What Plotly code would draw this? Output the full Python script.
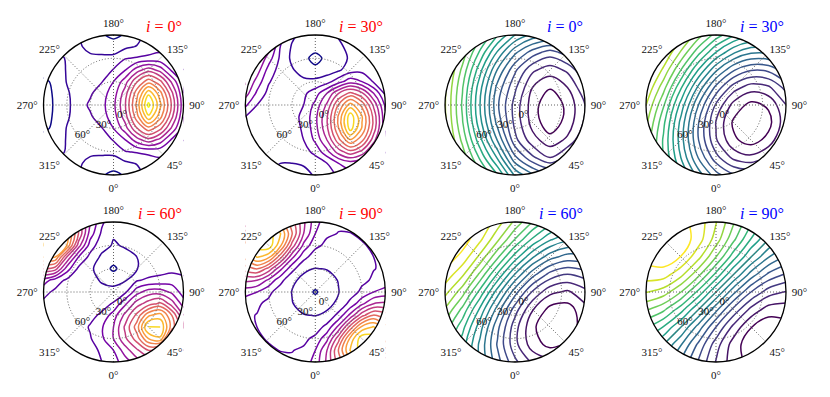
import numpy as np
import plotly.graph_objects as go

# projected zenith coordinates (deg) of the sample grids: x to the right (azimuth 90), y up (azimuth 180)
grid_fine = [-90, -75, -60, -45, -30, -15, 0, 15, 30, 45, 60, 75, 90]
grid_coarse = [-90, -67.5, -45, -22.5, 0, 22.5, 45, 67.5, 90]

azimuth_ticks = [0, 45, 90, 135, 180, 225, 270, 315]
azimuth_labels = ['0°', '45°', '90°', '135°', '180°', '225°', '270°', '315°']
zenith_ticks = [0, 30, 60]
zenith_labels = ['0°', '30°', '60°']

incidence = ['0°', '30°', '60°', '90°']

# left block: contour level, rows from top (y=90) to bottom (y=-90)
left_i0 = [
    [2.0, 2.0, 2.0, 2.0, 1.6, 1.1, 0.7, 1.1, 1.6, 2.3, 2.6, 2.6, 2.6],
    [2.0, 2.0, 2.1, 2.1, 1.8, 1.7, 1.6, 1.8, 2.05, 2.5, 2.7, 2.6, 2.6],
    [1.6, 1.8, 2.05, 2.3, 2.15, 2.15, 2.2, 2.95, 3.1, 3.2, 3.3, 3.0, 2.8],
    [1.4, 1.6, 2.05, 2.4, 2.5, 2.7, 3.05, 3.95, 5.53, 6.6, 5.6, 3.8, 3.0],
    [0.8, 1.2, 2.05, 2.45, 2.6, 2.95, 4.0, 5.54, 7.93, 9.6, 8.32, 5.8, 3.5],
    [0.6, 1.15, 1.85, 2.5, 2.85, 3.6, 4.46, 6.53, 9.6, 12.8, 10.4, 7.23, 4.0],
    [0.5, 1.13, 1.78, 2.5, 3.18, 3.71, 4.73, 6.93, 10.28, 14.3, 11.25, 7.86, 4.3],
    [0.6, 1.15, 1.85, 2.5, 2.85, 3.6, 4.46, 6.53, 9.6, 12.8, 10.4, 7.23, 4.0],
    [0.8, 1.2, 2.05, 2.45, 2.6, 2.95, 4.0, 5.54, 7.93, 9.6, 8.32, 5.8, 3.5],
    [1.4, 1.6, 2.05, 2.4, 2.5, 2.7, 3.05, 3.95, 5.53, 6.6, 5.6, 3.8, 3.0],
    [1.6, 1.8, 2.05, 2.3, 2.15, 2.15, 2.2, 2.95, 3.1, 3.2, 3.3, 3.0, 2.8],
    [2.0, 2.0, 2.1, 2.1, 1.8, 1.7, 1.6, 1.8, 2.05, 2.5, 2.7, 2.6, 2.6],
    [2.0, 2.0, 2.0, 2.0, 1.6, 1.1, 0.7, 1.1, 1.6, 2.3, 2.6, 2.6, 2.6],
]
left_i30 = [
    [6.5, 6.5, 6.0, 3.5, 2.2, 1.7, 1.6, 1.7, 2.1, 2.5, 2.5, 2.5, 2.5],
    [6.5, 6.5, 5.5, 3.0, 1.9, 1.5, 1.3, 1.4, 1.8, 2.3, 2.5, 2.5, 2.5],
    [6.5, 6.2, 4.5, 2.8, 1.8, 1.2, 0.75, 1.2, 1.7, 2.1, 2.6, 2.7, 2.7],
    [6.5, 5.5, 3.6, 2.6, 2.1, 1.6, 1.2, 1.5, 1.85, 2.5, 2.7, 2.7, 2.6],
    [6.2, 4.6, 3.1, 2.45, 2.15, 2.2, 2.3, 2.6, 3.6, 4.6, 4.0, 2.9, 2.6],
    [5.5, 3.8, 2.7, 2.4, 2.5, 2.8, 3.5, 5.0, 7.0, 8.3, 7.2, 5.0, 2.9],
    [4.2, 3.0, 2.5, 2.4, 2.6, 3.0, 4.3, 6.2, 9.1, 11.5, 9.7, 6.8, 3.8],
    [3.0, 2.5, 2.3, 2.35, 2.7, 3.2, 4.7, 6.9, 10.2, 13.7, 11.1, 7.7, 4.2],
    [2.5, 2.3, 2.3, 2.4, 2.7, 3.1, 4.6, 6.8, 10.0, 13.5, 10.9, 7.6, 4.1],
    [2.3, 2.2, 2.2, 2.4, 2.7, 3.0, 4.2, 6.0, 8.7, 10.9, 9.3, 6.4, 3.6],
    [2.2, 2.2, 2.2, 2.3, 2.5, 2.6, 3.3, 4.7, 6.5, 7.7, 6.7, 4.7, 3.0],
    [2.2, 2.2, 2.2, 2.0, 2.0, 2.1, 2.4, 3.0, 4.0, 4.5, 4.0, 3.2, 2.8],
    [2.2, 2.2, 2.0, 1.7, 1.6, 1.7, 2.1, 2.5, 3.2, 3.5, 3.2, 2.8, 2.6],
]
left_i60 = [
    [12, 12, 12, 7.5, 5, 3.2, 2.2, 2.2, 2.3, 2.3, 2.3, 2.3, 2.3],
    [12, 12, 11.5, 8, 4.5, 2.8, 2.1, 2.1, 2.2, 2.3, 2.3, 2.3, 2.3],
    [12, 12.5, 11, 6.5, 3.5, 2.4, 1.9, 2.1, 2.2, 2.2, 2.3, 2.3, 2.3],
    [11, 11, 7, 4, 2.7, 1.8, 1.5, 1.7, 2.0, 2.2, 2.4, 2.4, 2.4],
    [8, 7.5, 4.5, 2.8, 2.2, 1.5, 0.8, 1.5, 1.95, 2.4, 2.6, 2.7, 2.7],
    [4.5, 3.5, 2.8, 2.5, 2.3, 1.9, 1.7, 1.9, 2.9, 3.2, 3.3, 3.5, 3.2],
    [3.3, 2.8, 2.6, 2.4, 2.35, 2.3, 2.3, 2.8, 4.6, 5.5, 5.5, 4.8, 3.5],
    [2.8, 2.7, 2.5, 2.4, 2.5, 2.6, 3.1, 4.8, 6.5, 7.5, 8.2, 6.5, 4.5],
    [2.8, 2.6, 2.4, 2.4, 2.7, 3.2, 4.5, 6.3, 8.3, 10.8, 11.5, 9, 6],
    [2.6, 2.5, 2.4, 2.5, 3.1, 3.9, 5.0, 7.2, 9.5, 13.2, 13.0, 9.5, 7],
    [2.5, 2.5, 2.5, 3.0, 2.9, 3.8, 5.0, 6.8, 8.5, 11, 11.8, 7, 6.5],
    [2.5, 2.5, 2.5, 2.6, 2.6, 3.2, 4.0, 5.5, 6.8, 8, 7, 6, 6],
    [2.4, 2.4, 2.4, 2.5, 2.6, 3.0, 3.6, 4.5, 5.5, 6, 6, 6, 6],
]
left_i90 = [
    [6.0, 8.5, 10.3, 10.3, 8.5, 6.2, 4.4, 3.4, 3.14, 3.1, 3.15, 3.2, 3.25],
    [8.5, 11.8, 13.4, 12.1, 9.1, 6.0, 4.0, 3.14, 2.97, 2.99, 3.05, 3.15, 3.2],
    [10.3, 13.4, 13.7, 11.3, 7.65, 4.74, 3.23, 2.78, 2.76, 2.85, 2.97, 3.05, 3.15],
    [10.3, 12.1, 11.3, 8.4, 5.3, 3.3, 2.52, 2.41, 2.52, 2.7, 2.85, 3.0, 3.1],
    [8.5, 9.1, 7.65, 5.3, 3.3, 2.28, 1.97, 2.05, 2.28, 2.52, 2.76, 2.97, 3.14],
    [6.2, 6.0, 4.74, 3.3, 2.28, 1.62, 1.4, 1.6, 2.05, 2.41, 2.78, 3.14, 3.4],
    [4.4, 4.0, 3.23, 2.52, 1.97, 1.4, 0.9, 1.4, 1.97, 2.52, 3.23, 4.0, 4.4],
    [3.4, 3.14, 2.78, 2.41, 2.05, 1.6, 1.4, 1.62, 2.28, 3.3, 4.74, 6.0, 6.2],
    [3.14, 2.97, 2.76, 2.52, 2.28, 2.05, 1.97, 2.28, 3.3, 5.3, 7.65, 9.1, 8.5],
    [3.1, 3.0, 2.85, 2.7, 2.52, 2.41, 2.52, 3.3, 5.3, 8.4, 11.3, 12.1, 10.3],
    [3.15, 3.05, 2.97, 2.85, 2.76, 2.78, 3.23, 4.74, 7.65, 11.3, 13.7, 13.4, 10.3],
    [3.2, 3.15, 3.05, 2.99, 2.97, 3.14, 4.0, 6.0, 9.1, 12.1, 13.4, 11.8, 8.5],
    [3.25, 3.2, 3.15, 3.1, 3.14, 3.4, 4.4, 6.2, 8.5, 10.3, 10.3, 8.5, 6.0],
]

# right block: 1 - cos of the angle, rows from top (y=90) to bottom (y=-90)
right_i0 = [
    [1.826, 1.662, 1.441, 1.206, 1.0, 0.864, 0.819, 0.879, 1.031],
    [1.793, 1.565, 1.278, 0.984, 0.72, 0.55, 0.45, 0.55, 0.72],
    [1.752, 1.472, 1.134, 0.791, 0.52, 0.32, 0.25, 0.32, 0.5],
    [1.719, 1.407, 1.035, 0.663, 0.42, 0.2, 0.11, 0.2, 0.38],
    [1.707, 1.383, 1.0, 0.617, 0.36, 0.15, 0.012, 0.13, 0.3],
    [1.719, 1.407, 1.035, 0.663, 0.37, 0.16, 0.03, 0.14, 0.32],
    [1.752, 1.472, 1.134, 0.791, 0.43, 0.24, 0.14, 0.22, 0.4],
    [1.793, 1.565, 1.278, 0.984, 0.62, 0.42, 0.3, 0.42, 0.6],
    [1.826, 1.662, 1.441, 1.206, 0.88, 0.72, 0.62, 0.72, 0.88],
]
right_i30 = [
    [1.969, 1.889, 1.737, 1.546, 1.358, 1.207, 1.119, 1.112, 1.179],
    [1.953, 1.804, 1.584, 1.332, 1.094, 0.913, 0.814, 0.817, 0.915],
    [1.888, 1.678, 1.398, 1.093, 0.817, 0.611, 0.507, 0.524, 0.653],
    [1.797, 1.539, 1.212, 0.87, 0.568, 0.348, 0.246, 0.279, 0.436],
    [1.702, 1.412, 1.06, 0.699, 0.384, 0.163, 0.068, 0.116, 0.298],
    [1.624, 1.325, 0.966, 0.604, 0.294, 0.082, 0.0, 0.065, 0.263],
    [1.573, 1.286, 0.945, 0.601, 0.311, 0.119, 0.054, 0.132, 0.338],
    [1.557, 1.301, 0.996, 0.691, 0.434, 0.272, 0.226, 0.314, 0.519],
    [1.567, 1.36, 1.107, 0.853, 0.642, 0.514, 0.489, 0.583, 0.777],
]
right_i60 = [
    [1.955, 1.97, 1.896, 1.753, 1.575, 1.397, 1.248, 1.154, 1.126],
    [2.0, 1.956, 1.822, 1.622, 1.395, 1.182, 1.014, 0.921, 0.912],
    [1.966, 1.866, 1.673, 1.419, 1.153, 0.914, 0.738, 0.655, 0.672],
    [1.87, 1.718, 1.476, 1.185, 0.89, 0.637, 0.463, 0.397, 0.445],
    [1.736, 1.543, 1.268, 0.95, 0.642, 0.388, 0.226, 0.183, 0.264],
    [1.591, 1.373, 1.079, 0.755, 0.448, 0.207, 0.066, 0.052, 0.166],
    [1.46, 1.235, 0.944, 0.628, 0.341, 0.123, 0.009, 0.024, 0.166],
    [1.362, 1.147, 0.876, 0.588, 0.331, 0.148, 0.068, 0.112, 0.274],
    [1.308, 1.12, 0.884, 0.639, 0.425, 0.283, 0.236, 0.304, 0.479],
]
right_i90 = [
    [1.795, 1.915, 1.933, 1.856, 1.707, 1.514, 1.311, 1.131, 1.001],
    [1.915, 1.995, 1.969, 1.847, 1.653, 1.423, 1.194, 1.001, 0.869],
    [1.933, 1.969, 1.896, 1.73, 1.5, 1.243, 1.001, 0.806, 0.689],
    [1.856, 1.847, 1.73, 1.527, 1.271, 1.001, 0.757, 0.577, 0.486],
    [1.707, 1.653, 1.5, 1.271, 1.001, 0.729, 0.5, 0.347, 0.293],
    [1.514, 1.423, 1.243, 1.001, 0.729, 0.473, 0.27, 0.153, 0.144],
    [1.311, 1.194, 1.001, 0.757, 0.5, 0.27, 0.104, 0.031, 0.067],
    [1.131, 1.001, 0.806, 0.577, 0.347, 0.153, 0.031, 0.005, 0.085],
    [1.001, 0.869, 0.689, 0.486, 0.293, 0.144, 0.067, 0.085, 0.205],
]

LEFT = dict(colorscale='Plasma', zmin=0, zmax=14.5, start=1, end=14, size=1, color='red')
RIGHT = dict(colorscale='Viridis', zmin=0, zmax=2, start=0.1, end=1.95, size=0.1, color='blue')

panels = [
    (left_i0, grid_fine, LEFT, incidence[0], 0, 0),
    (left_i30, grid_fine, LEFT, incidence[1], 0, 1),
    (right_i0, grid_coarse, RIGHT, incidence[0], 0, 2),
    (right_i30, grid_coarse, RIGHT, incidence[1], 0, 3),
    (left_i60, grid_fine, LEFT, incidence[2], 1, 0),
    (left_i90, grid_fine, LEFT, incidence[3], 1, 1),
    (right_i60, grid_coarse, RIGHT, incidence[2], 1, 2),
    (right_i90, grid_coarse, RIGHT, incidence[3], 1, 3),
]

# the page body keeps its default 8px margin, so the figure is shifted by that much
PAGE = 8
W, H, R = 830 - PAGE, 397 - PAGE, 70
col_x = [113.5 - PAGE, 315.3 - PAGE, 515.0 - PAGE, 716.0 - PAGE]
row_y = [105.0 - PAGE, 292.0 - PAGE]
serif = 'Liberation Serif'
grid_style = dict(showgrid=True, gridcolor='#606060', gridwidth=0.9, griddash='1px,2px')

# white frame with a round hole, so the contours stop at the horizon
t = np.linspace(0, 2 * np.pi, 361)
mask_x = [90, 90, -90, -90, 90, 90] + list(90 * np.cos(-t))
mask_y = [0, 90, 90, -90, -90, 0] + list(90 * np.sin(-t))

fig = go.Figure()
layout = {}
annotations = []

for n, (z, grid, style, inc, row, col) in enumerate(panels, start=1):
    sfx = '' if n == 1 else str(n)
    cx, cy = col_x[col], row_y[row]
    xd = [(cx - R) / W, (cx + R) / W]
    yd = [1 - (cy + R) / H, 1 - (cy - R) / H]

    fig.add_trace(go.Contour(
        x=grid, y=grid[::-1], z=z,
        xaxis='x' + sfx, yaxis='y' + sfx,
        colorscale=style['colorscale'], zmin=style['zmin'], zmax=style['zmax'],
        contours=dict(coloring='lines', start=style['start'], end=style['end'], size=style['size']),
        line=dict(width=1.5, smoothing=1.0),
        showscale=False, hoverinfo='skip'
    ))
    fig.add_trace(go.Scatter(
        x=mask_x, y=mask_y, mode='lines', fill='toself', fillcolor='white',
        line=dict(width=0, color='white'), xaxis='x' + sfx, yaxis='y' + sfx,
        hoverinfo='skip', showlegend=False
    ))
    fig.add_trace(go.Scatterpolar(
        r=[0], theta=[0], mode='markers', marker=dict(opacity=0),
        subplot='polar' + sfx, hoverinfo='skip', showlegend=False
    ))

    layout['xaxis' + sfx] = dict(domain=xd, range=[-90, 90], visible=False, anchor='y' + sfx, fixedrange=True)
    layout['yaxis' + sfx] = dict(domain=yd, range=[-90, 90], visible=False, anchor='x' + sfx, fixedrange=True)
    layout['polar' + sfx] = dict(
        domain=dict(x=xd, y=yd),
        bgcolor='rgba(0,0,0,0)',
        angularaxis=dict(
            rotation=-90, direction='counterclockwise',
            tickvals=azimuth_ticks, ticktext=azimuth_labels,
            ticks='outside', ticklen=3, tickcolor='rgba(0,0,0,0)',
            showline=True, linecolor='black', linewidth=1.3,
            tickfont=dict(family=serif, size=11, color='#111'),
            **grid_style
        ),
        radialaxis=dict(
            range=[0, 90], tickvals=zenith_ticks, ticktext=zenith_labels,
            angle=205, tickangle=-155, side='counterclockwise', ticks='', showline=False,
            tickfont=dict(family=serif, size=11, color='#111'),
            **grid_style
        )
    )
    annotations.append(dict(
        text='<i>i</i> = ' + inc, x=(cx + R) / W, y=1 - (cy - 79) / H,
        xref='paper', yref='paper', xanchor='right', yanchor='middle',
        showarrow=False, font=dict(family=serif, size=16, color=style['color'])
    ))

fig.update_layout(
    width=W, height=H, autosize=False,
    margin=dict(l=0, r=0, t=0, b=0),
    paper_bgcolor='white', plot_bgcolor='white',
    showlegend=False, annotations=annotations,
    **layout
)

fig.write_html('out.html')
